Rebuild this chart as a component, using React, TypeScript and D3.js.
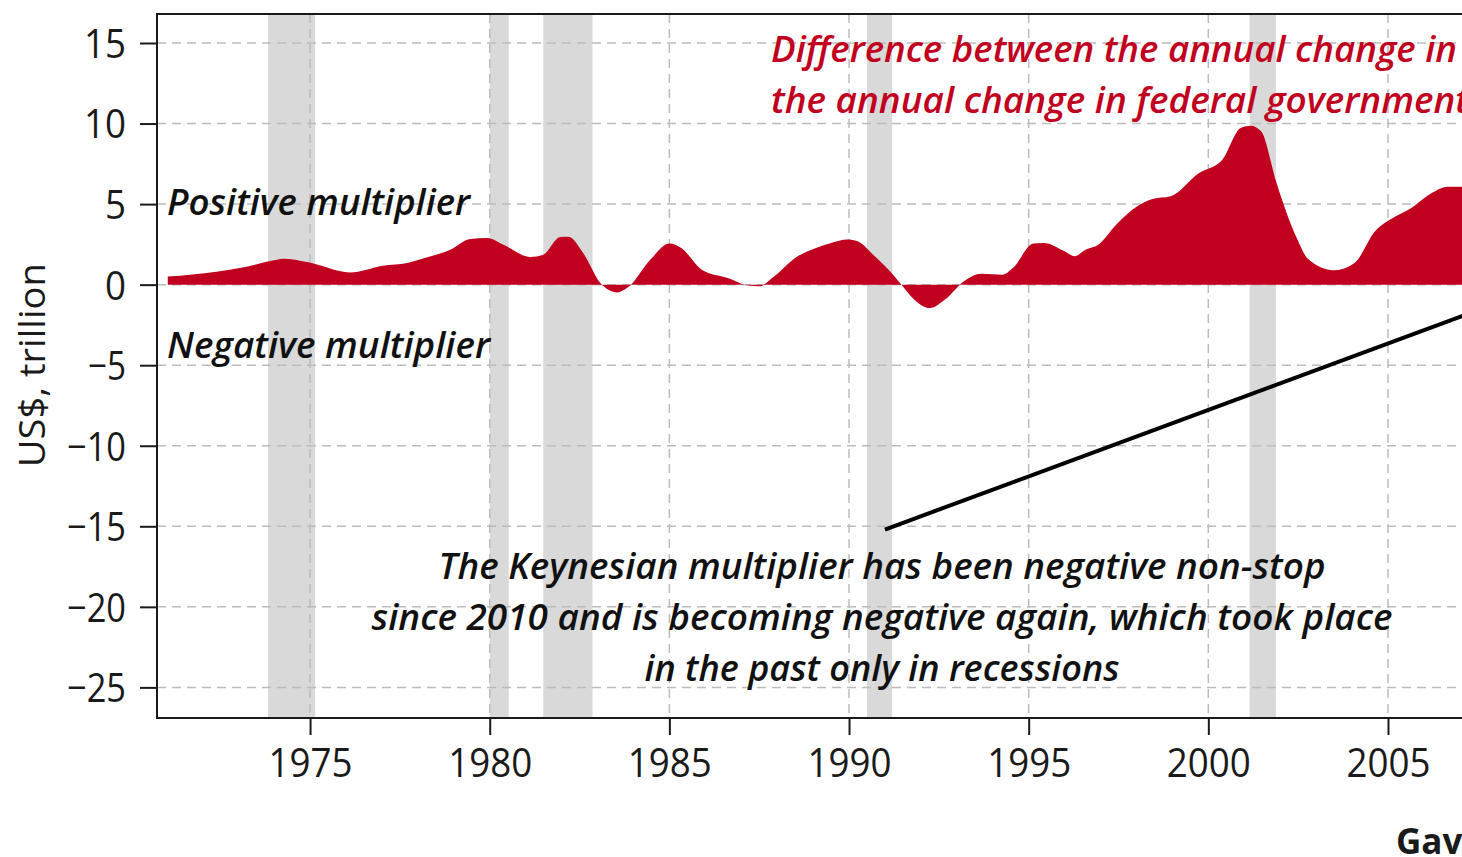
import React, { useRef, useEffect } from 'react';
import * as d3 from 'd3';

// difference between annual change in GDP and annual change in federal debt (US$ tn)
const years = [
  1971.04, 1972.4, 1973.2, 1974.08, 1974.25, 1974.92, 1976.11, 1977.03, 1977.7, 1978.26,
  1978.9, 1979.46, 1979.93, 1980.38, 1981.13, 1981.49, 1981.96, 1982.19, 1982.6, 1983.08,
  1983.55, 1983.83, 1984.47, 1985.0, 1985.33, 1985.9, 1986.63, 1987.2, 1987.5, 1987.92,
  1988.5, 1989.08, 1989.5, 1989.95, 1990.24, 1990.67, 1991.1, 1991.46, 1991.82, 1992.25,
  1992.69, 1993.19, 1993.69, 1994.27, 1994.56, 1995.13, 1995.42, 1996.0, 1996.28, 1996.58,
  1996.94, 1997.44, 1998.02, 1998.45, 1998.95, 1999.74, 2000.39, 2000.9, 2001.18, 2001.47,
  2001.9, 2002.48, 2002.77, 2003.49, 2004.07, 2004.64, 2005.22, 2005.65, 2006.23, 2006.66,
  2007.06, 2007.3,
];
const multiplier = [
  0.5, 0.8, 1.1, 1.55, 1.6, 1.4, 0.76, 1.18, 1.35, 1.7,
  2.17, 2.84, 2.9, 2.48, 1.72, 1.86, 2.96, 2.98, 1.97, 0.1,
  -0.48, -0.2, 1.55, 2.55, 2.28, 0.93, 0.41, -0.06, -0.1, 0.52,
  1.66, 2.28, 2.59, 2.8, 2.69, 1.86, 0.93, 0, -0.93, -1.45,
  -0.89, 0.2, 0.68, 0.62, 1.03, 2.55, 2.59, 2.07, 1.76, 2.17,
  2.48, 3.73, 4.86, 5.32, 5.48, 6.93, 7.76, 9.73, 9.87, 9.52,
  6.3, 2.8, 1.6, 0.89, 1.35, 3.31, 4.24, 4.76, 5.7, 6.07,
  6.07, 6.0,
];

const recessionStart = [1973.83, 1980.0, 1981.49, 1990.5, 2001.15];
const recessionEnd = [1975.14, 1980.53, 1982.86, 1991.2, 2001.88];

const xTicks = [1975, 1980, 1985, 1990, 1995, 2000, 2005];
const yTicks = [15, 10, 5, 0, -5, -10, -15, -20, -25];

const titleLines = [
  'Difference between the annual change in',
  'the annual change in federal government',
];
const noteLines = [
  'The Keynesian multiplier has been negative non-stop',
  'since 2010 and is becoming negative again, which took place',
  'in the past only in recessions',
];

const RED = '#c0001e';

function MultiplierChart() {
  const svgRef = useRef(null);

  useEffect(() => {
    const svg = d3.select(svgRef.current);
    svg.selectAll('*').remove();

    const width = 1462;
    const margin = { top: 14, left: 157, bottom: 718 };

    const x = d3.scaleLinear().domain([1970.74, 2007.06]).range([margin.left, width]);
    const y = d3.scaleLinear().domain([-26.9, 16.8]).range([margin.bottom, margin.top]);
    const right = x(2012);

    // recession bands
    svg.append('g')
      .selectAll('rect')
      .data(recessionStart)
      .enter().append('rect')
      .attr('x', d => x(d))
      .attr('width', (d, i) => x(recessionEnd[i]) - x(d))
      .attr('y', margin.top)
      .attr('height', margin.bottom - margin.top)
      .attr('fill', '#d9d9d9');

    // grid
    const grid = svg.append('g')
      .attr('stroke', '#bcbcbc')
      .attr('stroke-width', 1.5)
      .attr('stroke-dasharray', '9 6');
    grid.selectAll('.gy').data(yTicks).enter().append('line')
      .attr('x1', margin.left).attr('x2', right)
      .attr('y1', d => y(d)).attr('y2', d => y(d));
    grid.selectAll('.gx').data(xTicks).enter().append('line')
      .attr('x1', d => x(d)).attr('x2', d => x(d))
      .attr('y1', margin.top).attr('y2', margin.bottom);

    // area
    const area = d3.area()
      .x((d, i) => x(years[i]))
      .y0(y(0))
      .y1(d => y(d))
      .curve(d3.curveMonotoneX);
    svg.append('path')
      .datum(multiplier)
      .attr('fill', RED)
      .attr('d', area);

    // frame
    svg.append('rect')
      .attr('x', margin.left).attr('y', margin.top)
      .attr('width', right - margin.left).attr('height', margin.bottom - margin.top)
      .attr('fill', 'none').attr('stroke', '#1a1a1a').attr('stroke-width', 2);

    const font = "'Open Sans', sans-serif";

    // y axis
    const yAxis = svg.append('g')
      .attr('transform', `translate(${margin.left},0)`)
      .call(d3.axisLeft(y).tickValues(yTicks).tickSize(17).tickPadding(14));
    yAxis.select('.domain').remove();
    yAxis.selectAll('line').attr('stroke', '#1a1a1a').attr('stroke-width', 2);
    yAxis.selectAll('text')
      .attr('font-family', font)
      .attr('font-size', 40)
      .attr('fill', '#1a1a1a')
      .attr('dy', '0.36em')
      .attr('textLength', d => (d < 0 ? 17 : 0) + String(Math.abs(d)).length * 21)
      .attr('lengthAdjust', 'spacingAndGlyphs');

    // x axis
    const xAxis = svg.append('g')
      .attr('transform', `translate(0,${margin.bottom})`)
      .call(d3.axisBottom(x).tickValues(xTicks).tickSize(17).tickPadding(14).tickFormat(d3.format('d')));
    xAxis.select('.domain').remove();
    xAxis.selectAll('line').attr('stroke', '#1a1a1a').attr('stroke-width', 2);
    xAxis.selectAll('text')
      .attr('font-family', font)
      .attr('font-size', 40)
      .attr('fill', '#1a1a1a')
      .attr('dy', '0.71em')
      .attr('textLength', 84)
      .attr('lengthAdjust', 'spacingAndGlyphs');

    // y axis title
    svg.append('text')
      .attr('transform', `translate(45,${y(-5.0)}) rotate(-90)`)
      .attr('text-anchor', 'middle')
      .attr('font-family', font)
      .attr('font-size', 36)
      .attr('fill', '#1a1a1a')
      .attr('textLength', 204)
      .attr('lengthAdjust', 'spacingAndGlyphs')
      .text('US$, trillion');

    const italic = (sel) => sel
      .attr('font-family', font)
      .attr('font-style', 'italic')
      .attr('font-weight', 600)
      .attr('font-size', 36)
      .attr('lengthAdjust', 'spacingAndGlyphs');

    svg.append('text').call(italic)
      .attr('x', 167).attr('y', 215)
      .attr('fill', '#111')
      .attr('textLength', 303)
      .text('Positive multiplier');
    svg.append('text').call(italic)
      .attr('x', 167).attr('y', 358)
      .attr('fill', '#111')
      .attr('textLength', 323)
      .text('Negative multiplier');

    // red title
    svg.append('g').selectAll('text')
      .data(titleLines)
      .enter().append('text').call(italic)
      .attr('x', 771)
      .attr('y', (d, i) => 62 + i * 51)
      .attr('fill', RED)
      .attr('textLength', (d, i) => i === 0 ? 686 : 698)
      .text(d => d);

    // annotation
    svg.append('line')
      .attr('x1', x(1991.0)).attr('y1', y(-15.2))
      .attr('x2', x(2008.2)).attr('y2', y(-15.2 + 17.2 * 0.825))
      .attr('stroke', '#000')
      .attr('stroke-width', 4);

    const noteWidths = [887, 1021, 475];
    svg.append('g').selectAll('text')
      .data(noteLines)
      .enter().append('text').call(italic)
      .attr('x', 882)
      .attr('y', (d, i) => 579 + i * 51)
      .attr('text-anchor', 'middle')
      .attr('fill', '#111')
      .attr('textLength', (d, i) => noteWidths[i])
      .text(d => d);

    svg.append('text')
      .attr('x', 1396).attr('y', 854)
      .attr('font-family', font)
      .attr('font-weight', 700)
      .attr('font-size', 35)
      .attr('fill', '#1a1a1a')
      .text('Gavekal');
  }, []);

  return (
    <svg
      ref={svgRef}
      width={1462}
      height={857}
      style={{ position: 'absolute', left: 0, top: 0, background: '#fff' }}
    />
  );
}

export default function App() {
  return <MultiplierChart />;
}
